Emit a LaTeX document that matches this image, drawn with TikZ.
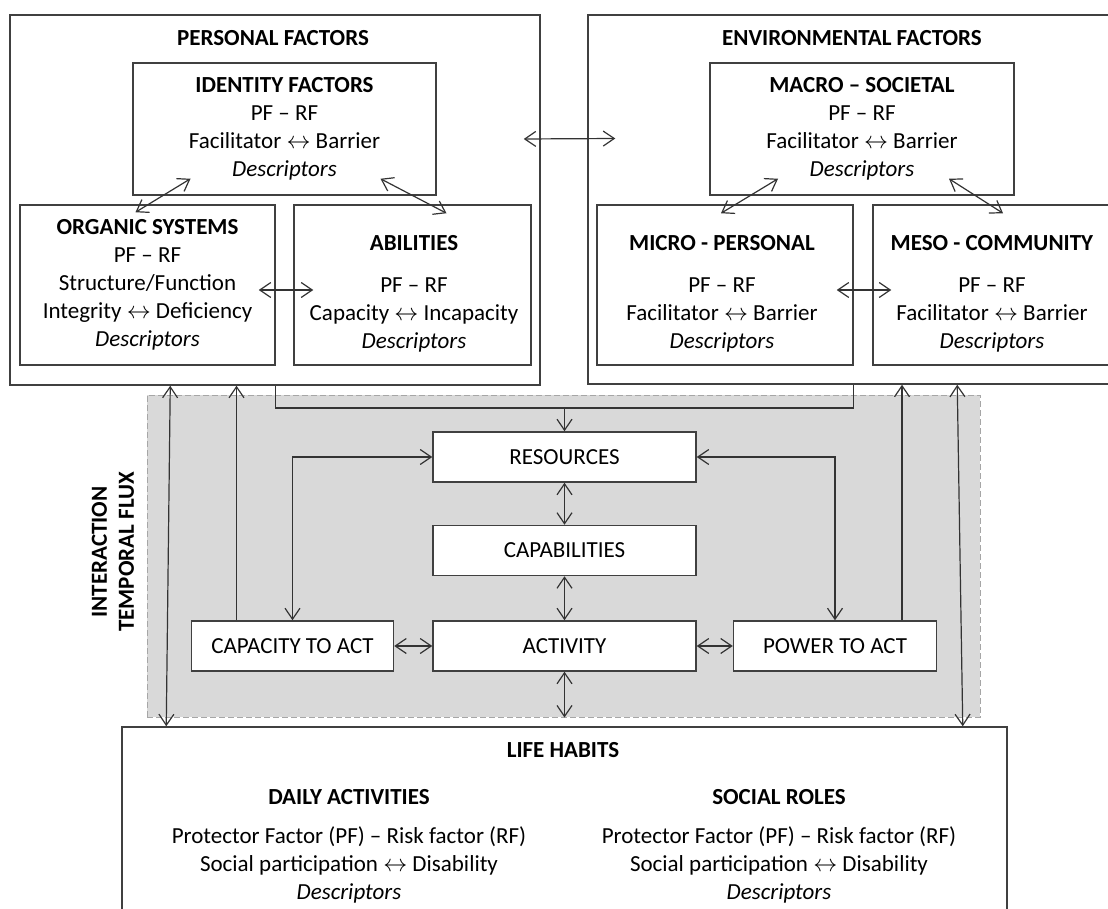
\documentclass[tikz,border=0pt]{standalone}
\usepackage{fontspec}
\setmainfont{Carlito}
\usepackage{xcolor}
\usetikzlibrary{positioning, arrows.meta, calc}

\newcommand{\bothway}{$\leftrightarrow$}

\begin{document}
\begin{tikzpicture}[
  x=0.5pt, y=-0.5pt,
  font=\fontsize{11.5}{14}\selectfont,
  frame/.style={draw=black!75, line width=0.75pt, fill=white, inner sep=0pt},
  factor/.style={frame, align=center},
  fluxbox/.style={frame, minimum width=131.5pt, minimum height=25pt},
  txt/.style={align=center, inner sep=0pt},
  flux/.style={draw=black!35, fill=black!15, dash pattern=on 3pt off 1.5pt, line width=0.5pt},
  link/.style={line width=0.6pt, black!80},
  arr/.style={link, -{Straight Barb[length=5.5pt,width=7.5pt]}},
  dbl/.style={link, {Straight Barb[length=5.5pt,width=7.5pt]}-{Straight Barb[length=5.5pt,width=7.5pt]}}
]
  \useasboundingbox (0,0) rectangle (1108,909);

  % interaction zone
  \node[flux, minimum width=416.5pt, minimum height=161pt] (flux) at (563.5,556) {};
  \node[txt, rotate=90, font=\fontsize{11.5}{13.5}\selectfont\bfseries] (fluxlabel) at (113,552)
    {INTERACTION\\TEMPORAL FLUX};

  % personal factors
  \node[frame, minimum width=265pt, minimum height=185pt] (personal) at (275,200) {};
  \node[txt, font=\fontsize{11.5}{14}\selectfont\bfseries] (personaltitle) at (273,38) {PERSONAL FACTORS};
  \node[factor, minimum width=151.5pt, minimum height=66pt] (identity) at (284.5,129)
    {\textbf{IDENTITY FACTORS}\\PF – RF\\Facilitator \bothway{} Barrier\\\textit{Descriptors}};
  \node[factor, minimum width=127.5pt, minimum height=80pt] (organic) at (147.5,285)
    {\textbf{ORGANIC SYSTEMS}\\PF – RF\\Structure/Function\\Integrity \bothway{} Deficiency\\\textit{Descriptors}};
  \node[frame, minimum width=118.5pt, minimum height=80pt] (abilities) at (412.5,285) {};
  \node[txt] (abilitiestext) at (414,294)
    {\textbf{ABILITIES}\\[7pt]PF – RF\\Capacity \bothway{} Incapacity\\\textit{Descriptors}};

  % environmental factors
  \node[frame, minimum width=264pt, minimum height=184.5pt] (env) at (852,199.5) {};
  \node[txt, font=\fontsize{11.5}{14}\selectfont\bfseries] (envtitle) at (852,38) {ENVIRONMENTAL FACTORS};
  \node[factor, minimum width=152pt, minimum height=66pt] (macro) at (862,129)
    {\textbf{MACRO – SOCIETAL}\\PF – RF\\Facilitator \bothway{} Barrier\\\textit{Descriptors}};
  \node[frame, minimum width=128pt, minimum height=80pt] (micro) at (725,285) {};
  \node[txt] (microtext) at (722,294)
    {\textbf{MICRO - PERSONAL}\\[7pt]PF – RF\\Facilitator \bothway{} Barrier\\\textit{Descriptors}};
  \node[frame, minimum width=120pt, minimum height=80pt] (meso) at (993,285) {};
  \node[txt] (mesotext) at (992,294)
    {\textbf{MESO - COMMUNITY}\\[7pt]PF – RF\\Facilitator \bothway{} Barrier\\\textit{Descriptors}};

  % life habits
  \node[frame, minimum width=442.5pt, minimum height=97pt] (lifehabits) at (564.5,824) {};
  \node[txt, font=\fontsize{11.5}{14}\selectfont\bfseries] (lifetitle) at (563,750) {LIFE HABITS};
  \node[txt] (daily) at (349,846)
    {\textbf{DAILY ACTIVITIES}\\[5.5pt]Protector Factor (PF) – Risk factor (RF)\\Social participation \bothway{} Disability\\\textit{Descriptors}};
  \node[txt] (social) at (779,846)
    {\textbf{SOCIAL ROLES}\\[5.5pt]Protector Factor (PF) – Risk factor (RF)\\Social participation \bothway{} Disability\\\textit{Descriptors}};

  % inner boxes
  \node[fluxbox] (resources) at (564.5,457) {RESOURCES};
  \node[fluxbox, below=21pt of resources] (capabilities) {CAPABILITIES};
  \node[fluxbox, below=22pt of capabilities] (activity) {ACTIVITY};
  \node[fluxbox, minimum width=101pt, left=19pt of activity] (capacity) {CAPACITY TO ACT};
  \node[fluxbox, minimum width=101.5pt, right=18pt of activity] (power) {POWER TO ACT};

  % links inside the factor boxes
  \draw[dbl] (personal.east) ++(-17,-61) coordinate (pe) -- ($(env.west)+(28,-61)$);
  \draw[dbl] ($(identity.south)+(-94,-17)$) -- ($(organic.north)+(-12,8)$);
  \draw[dbl] ($(identity.south)+(96,-17)$) -- ($(abilities.north)+(34,9)$);
  \draw[dbl] ($(organic.east)+(-17,5)$) -- ($(abilities.west)+(20,5)$);
  \draw[dbl] ($(macro.south)+(-84,-17)$) -- ($(micro.north)+(-4,9)$);
  \draw[dbl] ($(macro.south)+(87,-17)$) -- ($(meso.north)+(10,9)$);
  \draw[dbl] ($(micro.east)+(-17,5)$) -- ($(meso.west)+(19,5)$);

  % feed into resources
  \coordinate (feed) at (564.5,408);
  \draw[link] (organic.east |- personal.south) |- (feed) -| (micro.east |- env.south);
  \draw[arr] (feed) -- (resources.north);

  % flux connections
  \draw[dbl] (resources) -- (capabilities);
  \draw[dbl] (capabilities) -- (activity);
  \draw[dbl] (capacity) -- (activity);
  \draw[dbl] (activity) -- (power);
  \draw[dbl] (activity.south) -- (activity.south |- flux.south);
  \draw[dbl] (resources.west) -| (capacity.north);
  \draw[dbl] (resources.east) -| (power.north);

  \coordinate (capup) at ($(capacity.north)+(-56,0)$);
  \coordinate (powup) at ($(power.north)+(67,0)$);
  \draw[arr] (capup) -- (capup |- personal.south);
  \draw[arr] (powup) -- (powup |- env.south);

  \coordinate (leftup) at ($(personal.south west)+(161,0)$);
  \coordinate (leftdown) at ($(lifehabits.north west)+(45,0)$);
  \coordinate (rightup) at ($(env.south west)+(370,0)$);
  \coordinate (rightdown) at ($(lifehabits.north east)+(-45,0)$);
  \draw[dbl] (leftup) -- (leftdown);
  \draw[dbl] (rightup) -- (rightdown);
\end{tikzpicture}
\end{document}
